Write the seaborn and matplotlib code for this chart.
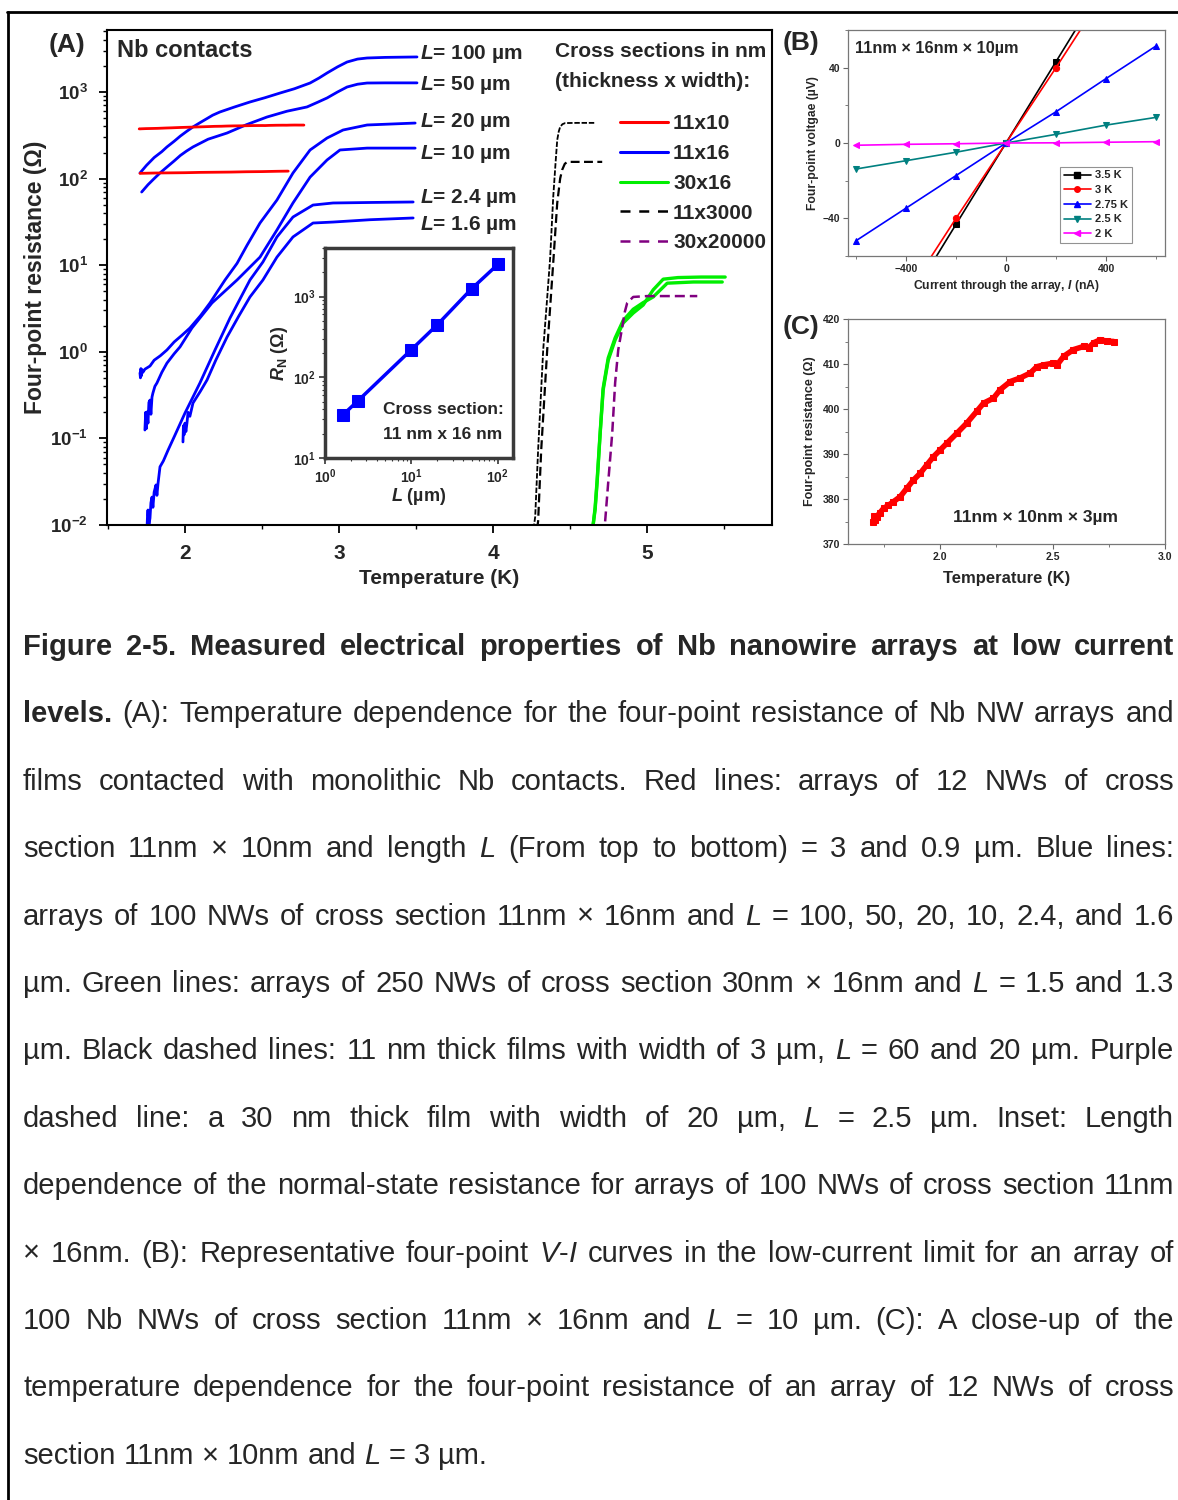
import numpy as np
import pandas as pd
import matplotlib
matplotlib.use("Agg")
import matplotlib.pyplot as plt
import seaborn as sns
from matplotlib.lines import Line2D
from matplotlib.ticker import (MultipleLocator, LogLocator, FuncFormatter,
                               NullFormatter, FormatStrFormatter)

# ------------------------------------------------------------------ data
# Panel A - blue: arrays of 100 NWs, 11 nm x 16 nm (T in K, R in ohm)
blue100_T = [1.708, 1.75, 1.80, 1.85, 1.883, 1.93, 1.97, 2.01, 2.052, 2.10, 2.14, 2.18, 2.227, 2.32,
             2.422, 2.52, 2.617, 2.71, 2.812, 2.87, 2.922, 2.99, 3.052, 3.12, 3.182, 3.30, 3.506]
blue100_R = [116, 142, 175, 205, 232, 270, 310, 350, 395, 445, 490, 540, 588, 670,
             767, 860, 973, 1090, 1270, 1450, 1657, 1950, 2220, 2400, 2470, 2510, 2540]
blue50_T = [1.719, 1.76, 1.80, 1.84, 1.883, 1.93, 1.97, 2.01, 2.052, 2.15, 2.273, 2.40, 2.532,
            2.662, 2.792, 2.86, 2.922, 2.99, 3.052, 3.12, 3.182, 3.30, 3.506]
blue50_R = [70, 85, 100, 117, 136, 160, 185, 208, 232, 285, 336, 420, 514,
            600, 672, 760, 853, 1000, 1142, 1230, 1270, 1275, 1275]
blue20_T = [1.708, 1.711, 1.714, 1.718, 1.721, 1.727, 1.74, 1.773, 1.80, 1.84, 1.883, 1.93, 1.98,
            2.032, 2.10, 2.162, 2.260, 2.338, 2.403, 2.487, 2.597, 2.701, 2.812, 2.922, 3.026,
            3.182, 3.494]
blue20_R = [0.57, 0.50, 0.64, 0.53, 0.62, 0.58, 0.63, 0.685, 0.80, 0.90, 1.05, 1.30, 1.55,
            1.88, 2.6, 3.66, 6.75, 10.5, 17.0, 30.7, 56.6, 116, 214, 294, 364, 416, 438]
blue10_T = [1.740, 1.745, 1.750, 1.753, 1.760, 1.766, 1.773, 1.779, 1.786, 1.792, 1.805, 1.818,
            1.85, 1.883, 1.93, 1.968, 2.045, 2.175, 2.338, 2.487, 2.597, 2.701, 2.812, 2.922,
            3.006, 3.182, 3.494]
blue10_R = [0.125, 0.20, 0.13, 0.202, 0.15, 0.26, 0.277, 0.19, 0.30, 0.334, 0.40, 0.436,
            0.58, 0.74, 0.95, 1.14, 1.88, 3.66, 6.75, 12.4, 25.5, 52.3, 104, 164,
            214, 225, 225]
blue24_T = [1.753, 1.757, 1.760, 1.766, 1.773, 1.779, 1.786, 1.792, 1.80, 1.812, 1.818, 1.825,
            1.838, 1.86, 1.890, 1.935, 2.0, 2.097, 2.195, 2.292, 2.422, 2.506, 2.597, 2.701,
            2.831, 2.961, 3.2, 3.481]
blue24_R = [0.0085, 0.013, 0.0149, 0.010, 0.012, 0.018, 0.021, 0.016, 0.024, 0.029, 0.022, 0.030,
            0.047, 0.055, 0.073, 0.109, 0.196, 0.436, 1.05, 2.45, 6.75, 10.9, 21.2, 36.0,
            49.5, 52.3, 53.0, 53.7]
blue16_T = [1.987, 1.990, 1.994, 2.0, 2.006, 2.013, 2.02, 2.032, 2.052, 2.10, 2.143, 2.20,
            2.273, 2.35, 2.422, 2.506, 2.597, 2.701, 2.831, 2.961, 3.2, 3.481]
blue16_R = [0.091, 0.14, 0.11, 0.15, 0.12, 0.151, 0.20, 0.18, 0.256, 0.35, 0.472, 0.80,
            1.48, 2.6, 4.3, 6.75, 12.4, 21.2, 30.7, 31.5, 33.5, 35.1]

# Panel C / red (11 nm x 10 nm, L = 3 um)
C_T = [1.703, 1.706, 1.710, 1.718, 1.733, 1.748, 1.770, 1.792, 1.822, 1.852, 1.881, 1.911,
       1.941, 1.970, 2.000, 2.030, 2.074, 2.119, 2.163, 2.193, 2.237, 2.267, 2.312, 2.356,
       2.401, 2.430, 2.460, 2.504, 2.520, 2.549, 2.593, 2.638, 2.660, 2.682, 2.712, 2.740, 2.772]
C_R = [375.0, 376.2, 375.3, 376.1, 377.0, 377.9, 378.6, 379.4, 380.5, 382.4, 384.2, 385.7,
       387.6, 389.4, 390.9, 392.4, 394.6, 396.9, 399.5, 401.3, 402.4, 404.3, 406.1, 406.9,
       408.0, 409.4, 409.8, 410.2, 409.8, 411.7, 413.2, 413.9, 413.6, 414.7, 415.4, 415.1, 415.0]
# red, L = 0.9 um
red09_T = [1.708, 1.80, 1.90, 2.00, 2.10, 2.20, 2.30, 2.40, 2.50, 2.60, 2.67]
red09_R = [115, 116, 116.5, 117, 118, 118.5, 119, 120, 120.5, 121.5, 122]

# black dashed: 11 nm x 3 um films, L = 60 and 20 um
film60_T = [4.262, 4.273, 4.292, 4.325, 4.350, 4.370, 4.390, 4.405, 4.416, 4.426, 4.435, 4.450,
            4.468, 4.55, 4.662]
film60_R = [0.009, 0.0124, 0.073, 1.05, 4.0, 12.0, 61, 150, 279, 350, 395, 425, 438, 440, 440]
film20_T = [4.285, 4.292, 4.312, 4.351, 4.390, 4.416, 4.435, 4.448, 4.465, 4.481, 4.60, 4.708]
film20_R = [0.009, 0.011, 0.073, 1.05, 10.6, 52, 100, 126, 148, 156, 156, 156]

# green: 30 nm x 16 nm arrays, L = 1.5 and 1.3 um
green15_T = [4.649, 4.662, 4.675, 4.695, 4.714, 4.747, 4.792, 4.844, 4.909, 4.974, 5.039, 5.104,
             5.20, 5.35, 5.506]
green15_R = [0.010, 0.015, 0.031, 0.115, 0.36, 0.80, 1.37, 2.15, 2.8, 3.47, 5.2, 6.9, 7.2, 7.3, 7.3]
green13_T = [4.649, 4.662, 4.675, 4.695, 4.714, 4.747, 4.792, 4.844, 4.909, 4.974, 5.039, 5.13,
             5.30, 5.487]
green13_R = [0.010, 0.016, 0.033, 0.12, 0.38, 0.85, 1.45, 2.3, 3.1, 3.7, 4.3, 6.2, 6.4, 6.4]

# purple dashed: 30 nm x 20 um film, L = 2.5 um
purple_T = [4.727, 4.747, 4.773, 4.792, 4.812, 4.838, 4.855, 4.870, 4.909, 5.0, 5.2, 5.325]
purple_R = [0.011, 0.031, 0.115, 0.44, 1.05, 1.93, 2.9, 3.66, 4.3, 4.4, 4.4, 4.4]

# inset: normal-state resistance vs length
inset_L = [1.6, 2.4, 10, 20, 50, 100]
inset_R = [34, 51, 220, 449, 1256, 2500]

# Panel B: V-I curves
B_I = [-600, -400, -200, 0, 200, 400, 600]
B_V35 = [-129.6, -86.4, -43.2, 0, 43.2, 86.4, 129.6]
B_V3 = [-121, -81, -40, 0, 40, 81, 121]
B_V275 = [-51.9, -34.6, -17.3, 0, 16.6, 34.2, 51.5]
B_V25 = [-13.8, -9.4, -4.9, 0, 4.6, 9.5, 13.6]
B_V2 = [-1.2, -0.7, -0.4, 0, 0.1, 0.4, 0.7]
B_labels = ["3.5 K", "3 K", "2.75 K", "2.5 K", "2 K"]

legendA_labels = ["11x10", "11x16", "30x16", "11x3000", "30x20000"]
L_labels = ["100", "50", "20", "10", "2.4", "1.6"]

# ------------------------------------------------------------------ style
sns.set_theme(style="ticks")
plt.rcParams["font.family"] = ["Liberation Sans", "DejaVu Sans"]
plt.rcParams["mathtext.fontset"] = "custom"
plt.rcParams["mathtext.rm"] = "Liberation Sans"
plt.rcParams["mathtext.sf"] = "Liberation Sans"
plt.rcParams["mathtext.it"] = "Liberation Sans:italic"
plt.rcParams["mathtext.bf"] = "Liberation Sans:bold"
if "mathtext.bfit" in plt.rcParams:
    plt.rcParams["mathtext.bfit"] = "Liberation Sans:italic:bold"

BLUE, RED, GREEN, PURPLE = "#0000FF", "#FF0000", "#00EE00", "#800080"

W, H = 1178, 1500
fig = plt.figure(figsize=(W / 100, H / 100), dpi=100)
fig.patch.set_facecolor("white")


def rect(l, t, r, b):
    return [l / W, 1 - b / H, (r - l) / W, (b - t) / H]


def curve(ax, x, y, color, lw=2.0, **kw):
    df = pd.DataFrame({"x": x, "y": y})
    sns.lineplot(data=df, x="x", y="y", ax=ax, color=color, linewidth=lw, sort=False,
                 estimator=None, legend=False, **kw)


def decade_fmt(v, p):
    return r"$\mathbf{10^{%d}}$" % int(round(np.log10(v)))


# ------------------------------------------------------------------ Panel A
axA = fig.add_axes(rect(107, 30, 772, 525))
for T, R in [(blue100_T, blue100_R), (blue50_T, blue50_R), (blue20_T, blue20_R),
             (blue10_T, blue10_R), (blue24_T, blue24_R), (blue16_T, blue16_R)]:
    curve(axA, T, R, BLUE, lw=2.0)
curve(axA, C_T, C_R, RED, lw=2.0)
curve(axA, red09_T, red09_R, RED, lw=2.0)
curve(axA, film60_T, film60_R, "black", lw=1.3, linestyle=(0, (3, 1)))
curve(axA, film20_T, film20_R, "black", lw=1.6, linestyle=(0, (4, 2)))
curve(axA, green15_T, green15_R, GREEN, lw=2.4)
curve(axA, green13_T, green13_R, GREEN, lw=2.4)
curve(axA, purple_T, purple_R, PURPLE, lw=1.8, linestyle=(0, (4, 2)))

axA.set_yscale("log")
axA.set_xlim(1.494, 5.81)
axA.set_ylim(0.01, 5200)
axA.xaxis.set_major_locator(MultipleLocator(1))
axA.xaxis.set_minor_locator(MultipleLocator(0.5))
axA.yaxis.set_major_locator(LogLocator(base=10, numticks=12))
axA.yaxis.set_minor_locator(LogLocator(base=10, subs=np.arange(2, 10), numticks=12))
axA.yaxis.set_major_formatter(FuncFormatter(decade_fmt))
axA.yaxis.set_minor_formatter(NullFormatter())
axA.xaxis.set_major_formatter(FormatStrFormatter("%d"))
axA.tick_params(axis="both", which="major", direction="out", length=6, width=1.3, color="black")
axA.tick_params(axis="both", which="minor", direction="out", length=3, width=1.0, color="black")
axA.tick_params(axis="x", labelsize=15, pad=8)
axA.tick_params(axis="y", labelsize=13.5, pad=8)
for lab in axA.get_xticklabels():
    lab.set_fontweight("bold")
for s in axA.spines.values():
    s.set_linewidth(1.5)
    s.set_color("black")
axA.set_xlabel("Temperature (K)", fontsize=15, fontweight="bold", labelpad=4)
axA.set_ylabel("Four-point resistance (Ω)", fontsize=16.5, fontweight="bold", labelpad=2)

axA.text(0.015, 0.958, "Nb contacts", transform=axA.transAxes, fontsize=17,
         fontweight="bold", va="center", ha="left")
Ly = [0.9515, 0.8889, 0.8141, 0.7495, 0.6606, 0.6061]
for lab, yy in zip(L_labels, Ly):
    axA.text(0.4707, yy, r"$\mathbfit{L}$= %s µm" % lab, transform=axA.transAxes,
             fontsize=15, fontweight="bold", va="center", ha="left")
axA.text(0.674, 0.956, "Cross sections in nm", transform=axA.transAxes, fontsize=15,
         fontweight="bold", va="center", ha="left")
axA.text(0.674, 0.895, "(thickness x width):", transform=axA.transAxes, fontsize=15,
         fontweight="bold", va="center", ha="left")

handles = [Line2D([], [], color=RED, lw=2.2),
           Line2D([], [], color=BLUE, lw=2.2),
           Line2D([], [], color=GREEN, lw=2.2),
           Line2D([], [], color="black", lw=1.8, linestyle=(0, (4, 3.5))),
           Line2D([], [], color=PURPLE, lw=1.8, linestyle=(0, (4, 3.5)))]
legA = axA.legend(handles, legendA_labels, loc="upper left", bbox_to_anchor=(0.7714, 0.830),
                  frameon=False, fontsize=15, handlelength=2.3, handletextpad=0.25,
                  labelspacing=0.52, borderpad=0, borderaxespad=0)
for t in legA.get_texts():
    t.set_fontweight("bold")

# ------------------------------------------------------------------ Inset
axI = fig.add_axes(rect(325, 248, 513, 458))
curve(axI, inset_L, inset_R, BLUE, lw=2.5, marker="s", markersize=8,
      markeredgecolor=BLUE, markerfacecolor=BLUE)
axI.set_xscale("log")
axI.set_yscale("log")
axI.set_xlim(1, 150)
axI.set_ylim(10, 4000)
for ax_ in (axI.xaxis, axI.yaxis):
    ax_.set_major_locator(LogLocator(base=10, numticks=10))
    ax_.set_minor_locator(LogLocator(base=10, subs=np.arange(2, 10), numticks=10))
    ax_.set_major_formatter(FuncFormatter(decade_fmt))
    ax_.set_minor_formatter(NullFormatter())
axI.tick_params(axis="both", which="major", direction="out", length=4, width=1.2, labelsize=10,
                pad=3, color="#333333")
axI.tick_params(axis="both", which="minor", direction="out", length=2, width=0.8, color="#333333")
for s in axI.spines.values():
    s.set_linewidth(2.5)
    s.set_color("#3a3a3a")
axI.set_ylabel(r"$\mathbfit{R}_{\mathbf{N}}$ (Ω)", fontsize=13, fontweight="bold", labelpad=2)
axI.set_xlabel(r"$\mathbfit{L}$ (µm)", fontsize=13, fontweight="bold", labelpad=0)
axI.text(0.628, 0.229, "Cross section:", transform=axI.transAxes, fontsize=12.5,
         fontweight="bold", ha="center", va="center")
axI.text(0.628, 0.11, "11 nm x 16 nm", transform=axI.transAxes, fontsize=12.5,
         fontweight="bold", ha="center", va="center")

# ------------------------------------------------------------------ Panel B
axB = fig.add_axes(rect(848, 30, 1165, 256))
B_series = [B_V35, B_V3, B_V275, B_V25, B_V2]
B_colors = ["black", RED, BLUE, "#008080", "#FF00FF"]
B_markers = ["s", "o", "^", "v", "<"]
for V, c, m, lab in zip(B_series, B_colors, B_markers, B_labels):
    curve(axB, B_I, V, c, lw=1.2, marker=m, markersize=4.5, markeredgecolor=c,
          markerfacecolor=c)
axB.set_xlim(-632, 636)
axB.set_ylim(-60, 60)
axB.xaxis.set_major_locator(MultipleLocator(400))
axB.xaxis.set_minor_locator(MultipleLocator(200))
axB.yaxis.set_major_locator(MultipleLocator(40))
axB.yaxis.set_minor_locator(MultipleLocator(20))
axB.tick_params(axis="both", which="major", direction="out", length=3.5, width=0.8,
                labelsize=7.5, pad=2, color="#666666")
axB.tick_params(axis="both", which="minor", direction="out", length=2, width=0.6, color="#666666")
for lab in axB.get_xticklabels() + axB.get_yticklabels():
    lab.set_fontweight("bold")
for s in axB.spines.values():
    s.set_linewidth(0.9)
    s.set_color("#777777")
axB.set_xlabel(r"Current through the array, $\mathbfit{I}$ (nA)", fontsize=8.7,
               fontweight="bold", labelpad=3)
axB.set_ylabel("Four-point voltgae (µV)", fontsize=8.7, fontweight="bold", labelpad=3)
axB.text(0.022, 0.916, "11nm × 16nm × 10µm", transform=axB.transAxes, fontsize=11.7,
         fontweight="bold", ha="left", va="center")
hB = [Line2D([], [], color=c, lw=1.2, marker=m, markersize=4, markeredgecolor=c,
             markerfacecolor=c) for c, m in zip(B_colors, B_markers)]
legB = axB.legend(hB, B_labels, loc="lower left", bbox_to_anchor=(0.669, 0.0575),
                  fontsize=8, frameon=True, fancybox=False, edgecolor="#777777",
                  borderpad=0.35, handlelength=2.4, labelspacing=0.42, handletextpad=0.4,
                  borderaxespad=0)
legB.get_frame().set_linewidth(0.8)
for t in legB.get_texts():
    t.set_fontweight("bold")

# ------------------------------------------------------------------ Panel C
axC = fig.add_axes(rect(848, 319, 1165, 544))
curve(axC, C_T, C_R, RED, lw=4.0, marker="s", markersize=4.5, markeredgecolor=RED,
      markerfacecolor=RED)
axC.set_xlim(1.59, 3.0)
axC.set_ylim(370, 420)
axC.xaxis.set_major_locator(MultipleLocator(0.5))
axC.xaxis.set_minor_locator(MultipleLocator(0.25))
axC.xaxis.set_major_formatter(FormatStrFormatter("%.1f"))
axC.yaxis.set_major_locator(MultipleLocator(10))
axC.yaxis.set_minor_locator(MultipleLocator(5))
axC.tick_params(axis="both", which="major", direction="out", length=3.5, width=0.8,
                labelsize=7.5, pad=2, color="#666666")
axC.tick_params(axis="both", which="minor", direction="out", length=2, width=0.6, color="#666666")
for lab in axC.get_xticklabels() + axC.get_yticklabels():
    lab.set_fontweight("bold")
for s in axC.spines.values():
    s.set_linewidth(0.9)
    s.set_color("#777777")
axC.set_xlabel("Temperature (K)", fontsize=12, fontweight="bold", labelpad=7)
axC.set_ylabel("Four-point resistance (Ω)", fontsize=9, fontweight="bold", labelpad=5)
axC.text(0.593, 0.116, "11nm × 10nm × 3µm", transform=axC.transAxes, fontsize=12.5,
         fontweight="bold", ha="center", va="center")

# ------------------------------------------------------------------ panel letters
for txt, x, y in [("(A)", 67, 45), ("(B)", 801, 43), ("(C)", 801, 327)]:
    fig.text(x / W, 1 - y / H, txt, fontsize=19, fontweight="bold", ha="center", va="center")

# ------------------------------------------------------------------ frame
fig.add_artist(Line2D([8 / W, 8 / W], [0, 1 - 12 / H], transform=fig.transFigure,
                      color="black", lw=2))
fig.add_artist(Line2D([7 / W, 1], [1 - 12 / H, 1 - 12 / H], transform=fig.transFigure,
                      color="black", lw=2))

# ------------------------------------------------------------------ caption
CAP_LINES = [
    "*Figure *2-5. *Measured *electrical *properties *of *Nb *nanowire *arrays *at *low *current",
    "*levels. (A): Temperature dependence for the four-point resistance of Nb NW arrays and",
    "films contacted with monolithic Nb contacts. Red lines: arrays of 12 NWs of cross",
    "section 11nm × 10nm and length _L_ (From top to bottom) = 3 and 0.9 µm. Blue lines:",
    "arrays of 100 NWs of cross section 11nm × 16nm and _L_ = 100, 50, 20, 10, 2.4, and 1.6",
    "µm. Green lines: arrays of 250 NWs of cross section 30nm × 16nm and _L_ = 1.5 and 1.3",
    "µm. Black dashed lines: 11 nm thick films with width of 3 µm, _L_ = 60 and 20 µm. Purple",
    "dashed line: a 30 nm thick film with width of 20 µm, _L_ = 2.5 µm. Inset: Length",
    "dependence of the normal-state resistance for arrays of 100 NWs of cross section 11nm",
    "× 16nm. (B): Representative four-point _V_-_I_ curves in the low-current limit for an array of",
    "100 Nb NWs of cross section 11nm × 16nm and _L_ = 10 µm. (C): A close-up of the",
    "temperature dependence for the four-point resistance of an array of 12 NWs of cross",
    "section 11nm × 10nm and _L_ = 3 µm.",
]
CAP_FS = 21
X0, X1 = 23, 1174
BASE0, DY = 655, 67.4

renderer = fig.canvas.get_renderer()


def measure(s, weight, style):
    t = fig.text(0, 0, s, fontsize=CAP_FS, fontweight=weight, fontstyle=style)
    w = t.get_window_extent(renderer=renderer).width
    t.remove()
    return w


space_w = measure("a a", "normal", "normal") - measure("aa", "normal", "normal")

for i, line in enumerate(CAP_LINES):
    words = []
    for w in line.split(" "):
        bold = w.startswith("*")
        w = w.lstrip("*")
        parts = w.split("_")
        segs = []
        for k, p in enumerate(parts):
            if p == "":
                continue
            segs.append((p, "bold" if bold else "normal", "italic" if k % 2 == 1 else "normal"))
        widths = [measure(*s) for s in segs]
        words.append((segs, widths))
    total = sum(sum(ws) for _, ws in words)
    if i == len(CAP_LINES) - 1:
        gap = space_w
    else:
        gap = (X1 - X0 - total) / (len(words) - 1)
    x = X0
    ybase = BASE0 + DY * i
    for segs, widths in words:
        for (s, wt, st), ww in zip(segs, widths):
            fig.text(x / W, 1 - ybase / H, s, fontsize=CAP_FS, fontweight=wt, fontstyle=st,
                     ha="left", va="baseline")
            x += ww
        x += gap

fig.savefig("out.png", dpi=100, facecolor="white")
